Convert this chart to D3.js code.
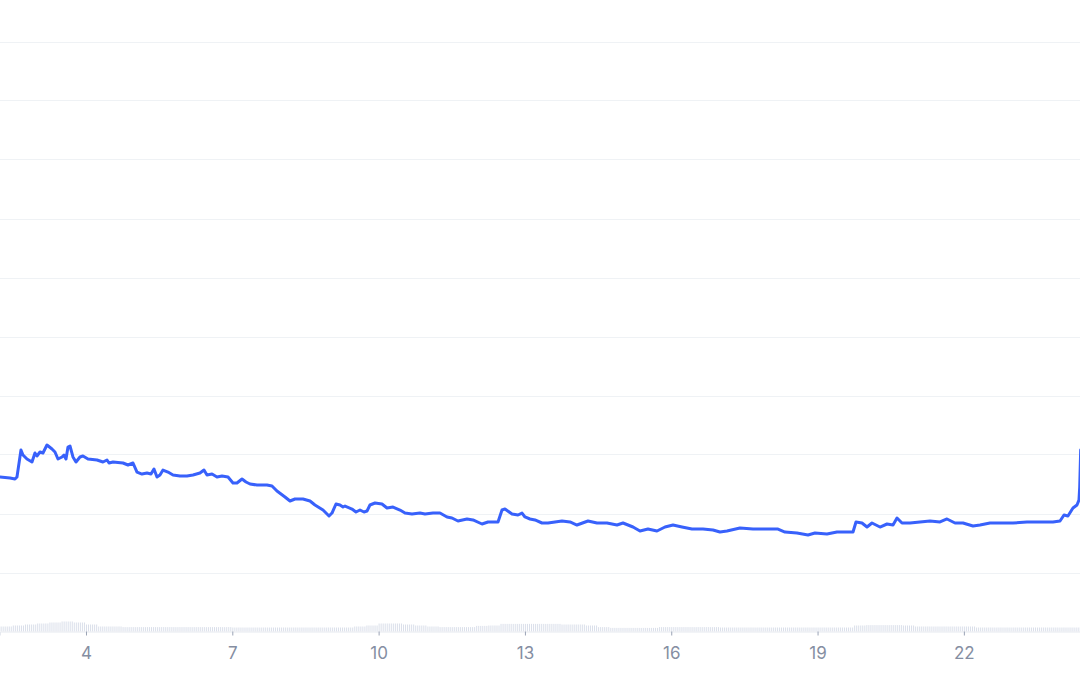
<!DOCTYPE html>
<html>
<head>
<meta charset="utf-8">
<script src="https://cdn.jsdelivr.net/npm/d3@7"></script>
<style>
  html, body { margin: 0; padding: 0; background: #ffffff; }
  svg { display: block; }
</style>
</head>
<body>
<svg id="chart" width="1080" height="675"></svg>
<script>
// ---- data ----
const priceDays = [2.237,2.442,2.544,2.585,2.667,2.708,2.790,2.893,2.954,2.995,3.057,3.118,3.200,3.303,3.364,3.426,3.508,3.549,3.590,3.631,3.672,3.733,3.795,3.877,3.938,4.041,4.226,4.349,4.431,4.472,4.554,4.759,4.861,4.964,5.046,5.148,5.251,5.333,5.394,5.456,5.517,5.579,5.681,5.784,5.927,6.071,6.194,6.337,6.419,6.481,6.584,6.686,6.789,6.912,7.014,7.096,7.199,7.281,7.363,7.506,7.711,7.814,7.916,8.080,8.183,8.285,8.449,8.593,8.695,8.860,8.983,9.044,9.126,9.208,9.270,9.311,9.454,9.536,9.618,9.700,9.762,9.823,9.926,10.069,10.172,10.295,10.438,10.541,10.684,10.848,10.951,11.115,11.258,11.402,11.504,11.627,11.812,11.935,12.120,12.243,12.448,12.530,12.591,12.735,12.858,12.940,13.001,13.104,13.206,13.350,13.473,13.616,13.760,13.924,14.067,14.293,14.478,14.683,14.888,15.011,15.216,15.359,15.523,15.708,15.872,16.036,16.220,16.425,16.651,16.856,16.999,17.143,17.409,17.676,17.963,18.189,18.332,18.578,18.804,18.947,19.193,19.398,19.665,19.727,19.788,19.911,20.014,20.116,20.280,20.424,20.547,20.629,20.731,20.895,21.100,21.306,21.511,21.654,21.818,21.982,22.187,22.331,22.536,22.741,23.007,23.294,23.561,23.827,23.971,24.053,24.134,24.237,24.319,24.360,24.375,24.395];
const priceValues = [2.619,2.602,2.585,2.619,3.076,2.992,2.924,2.873,3.025,2.975,3.042,3.025,3.161,3.093,3.042,2.924,2.958,2.992,2.924,3.127,3.144,2.958,2.873,2.958,2.975,2.924,2.907,2.873,2.907,2.856,2.873,2.856,2.822,2.856,2.703,2.669,2.686,2.669,2.754,2.619,2.653,2.737,2.703,2.653,2.636,2.636,2.653,2.686,2.737,2.653,2.669,2.619,2.636,2.619,2.517,2.517,2.585,2.534,2.500,2.483,2.483,2.466,2.381,2.280,2.212,2.246,2.246,2.212,2.144,2.059,1.958,2.008,2.161,2.144,2.110,2.127,2.076,2.025,2.059,2.025,2.042,2.144,2.178,2.161,2.093,2.110,2.059,2.008,1.992,2.008,1.992,2.008,2.008,1.941,1.924,1.873,1.907,1.890,1.822,1.856,1.856,2.059,2.076,1.992,1.975,2.008,1.941,1.907,1.890,1.839,1.839,1.856,1.873,1.856,1.805,1.873,1.839,1.839,1.805,1.839,1.771,1.703,1.737,1.703,1.771,1.805,1.771,1.737,1.737,1.720,1.686,1.703,1.754,1.737,1.737,1.737,1.686,1.669,1.636,1.669,1.653,1.686,1.686,1.686,1.856,1.839,1.771,1.839,1.771,1.822,1.805,1.924,1.839,1.839,1.856,1.873,1.856,1.907,1.839,1.839,1.788,1.805,1.839,1.839,1.839,1.856,1.856,1.856,1.873,1.975,1.958,2.093,2.144,2.229,2.449,3.076];

// volume in 6-hour blocks starting at day 2.25
const volumeStartDay = 2.25;
const volumeStepDays = 0.25;
const volumeValues = [25,30,35,40,45,50,45,35,25,25,22,22,22,22,22,22,22,22,22,20,20,20,20,20,20,20,20,20,20,25,30,40,40,35,30,25,22,22,22,28,30,38,38,38,38,38,35,35,30,22,18,18,18,18,22,22,22,22,22,20,20,20,20,20,20,20,20,20,20,20,30,32,32,32,30,25,25,25,25,25,20,20,20,20,20,20,20,20,20];

const xTickDays = [4,7,10,13,16,19,22];
const gridValues = [1,2,3,4,5,6,7,8,9,10];

// ---- drawing ----
const W = 1080, H = 675;
const svg = d3.select('#chart');

const x = d3.scaleLinear().domain([2.237, 24.381]).range([0, W]);
const y = d3.scaleLinear().domain([0, 10]).range([631.5, 41.5]);
const vh = d3.scaleLinear().domain([0, 50]).range([0, 10]);

// grid
svg.append('g').selectAll('line').data(gridValues).join('line')
  .attr('x1', 0).attr('x2', W)
  .attr('y1', d => Math.round(y(d)) + 0.5).attr('y2', d => Math.round(y(d)) + 0.5)
  .attr('stroke', '#eff2f5').attr('stroke-width', 1);

// volume bars (hourly thin bars within each 6-hour block)
const volBars = [];
volumeValues.forEach((v, i) => {
  for (let h = 0; h < 6; h++) {
    volBars.push({ day: volumeStartDay + i * volumeStepDays + h / 24, v });
  }
});
svg.append('g').selectAll('rect').data(volBars).join('rect')
  .attr('x', d => x(d.day))
  .attr('width', 1)
  .attr('y', d => 631.5 - vh(d.v))
  .attr('height', d => vh(d.v))
  .attr('fill', '#d3d9e6')
  .attr('opacity', 0.85);

// axis
const axis = d3.axisBottom(x).tickValues(xTickDays).tickSize(4).tickPadding(11).tickFormat(d3.format('d'));
const ag = svg.append('g').attr('transform', 'translate(0,631.5)').call(axis);
ag.select('.domain').attr('stroke', '#e6e9ef');
ag.selectAll('.tick line').attr('stroke', '#9aa3b5');
ag.selectAll('.tick text')
  .attr('fill', '#858ea2')
  .style('font-family', 'Inter, "Noto Sans", sans-serif')
  .style('font-size', '17px');

// price line
const line = d3.line()
  .x((d, i) => x(priceDays[i]))
  .y((d, i) => y(priceValues[i]))
  .curve(d3.curveLinear);
svg.append('path')
  .datum(priceValues)
  .attr('d', line)
  .attr('fill', 'none')
  .attr('stroke', '#3861fb')
  .attr('stroke-width', 3)
  .attr('stroke-linejoin', 'round')
  .attr('stroke-linecap', 'round');
</script>
</body>
</html>
